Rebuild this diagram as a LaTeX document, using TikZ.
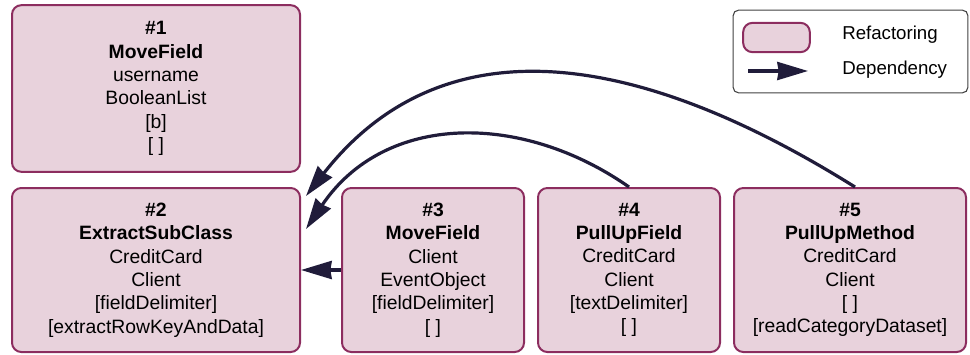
\documentclass[tikz,border=0pt]{standalone}
\usepackage{fontspec}
\setmainfont{Liberation Sans}
\usetikzlibrary{arrows.meta, calc}
\definecolor{refpink}{rgb}{0.91, 0.824, 0.863}
\definecolor{refplum}{rgb}{0.549, 0.176, 0.373}
\definecolor{depnavy}{rgb}{0.125, 0.11, 0.227}
\definecolor{keygrey}{rgb}{0.25, 0.25, 0.25}

\tikzset{
    refactoring/.style={draw=refplum, fill=refpink, line width=1.5pt, rounded corners=7pt,
        align=center, inner sep=0pt, font=\fontsize{14.5}{17.5}\selectfont},
    dependency/.style={draw=depnavy, line width=2.4pt,
        -{Stealth[length=23pt, width=13.5pt, inset=1pt]}},
}

\begin{document}
\begin{tikzpicture}[x=0.75pt, y=0.75pt]
        \useasboundingbox (0, 0) rectangle (970, 354);
        \begin{scope}
            \node [refactoring, minimum width=216pt, minimum height=125pt] (R1) at (156, 265.5)
                {\textbf{\#1}\\\textbf{MoveField}\\username\\BooleanList\\{[b]}\\{[ ]}};
            \node [refactoring, minimum width=216pt, minimum height=123pt] (R2) at (156, 84)
                {\textbf{\#2}\\\textbf{ExtractSubClass}\\CreditCard\\Client\\{[fieldDelimiter]}\\{[extractRowKeyAndData]}};
            \node [refactoring, minimum width=136.5pt, minimum height=123pt] (R3) at (433, 84)
                {\textbf{\#3}\\\textbf{MoveField}\\Client\\EventObject\\{[fieldDelimiter]}\\{[ ]}};
            \node [refactoring, minimum width=136.5pt, minimum height=123pt] (R4) at (629, 84)
                {\textbf{\#4}\\\textbf{PullUpField}\\CreditCard\\Client\\{[textDelimiter]}\\{[ ]}};
            \node [refactoring, minimum width=174pt, minimum height=123pt] (R5) at (850, 84)
                {\textbf{\#5}\\\textbf{PullUpMethod}\\CreditCard\\Client\\{[ ]}\\{[readCategoryDataset]}};

            \draw [dependency] (R3.west) -- (R2.east);
            \draw [dependency] (R4.north) .. controls +(-107, 75) and +(79, 117) .. ($(R2.north east)+(5, -42)$);
            \draw [dependency] ($(R5.north)+(5, 0)$) .. controls +(-243, 152) and +(126, 161) .. ($(R2.north east)+(5, -9)$);

            \node [draw=keygrey, line width=0.8pt, rounded corners=4pt, minimum width=176pt, minimum height=62pt] (key) at (850.5, 302.5) {};
            \node [refactoring, minimum width=50pt, minimum height=22pt] (keyR) at (776.5, 316.5) {};
            \coordinate (keyA) at (748, 283);
            \coordinate (keyB) at (808, 283);
            \draw [dependency] (keyA) -- (keyB);
            \node [anchor=west, inner sep=0pt, font=\fontsize{14}{16}\selectfont] (keyRtext) at (842, 319) {Refactoring};
            \node [anchor=west, inner sep=0pt, font=\fontsize{14}{16}\selectfont] (keyBtext) at (842, 284) {Dependency};
        \end{scope}
    \end{tikzpicture}
\end{document}
